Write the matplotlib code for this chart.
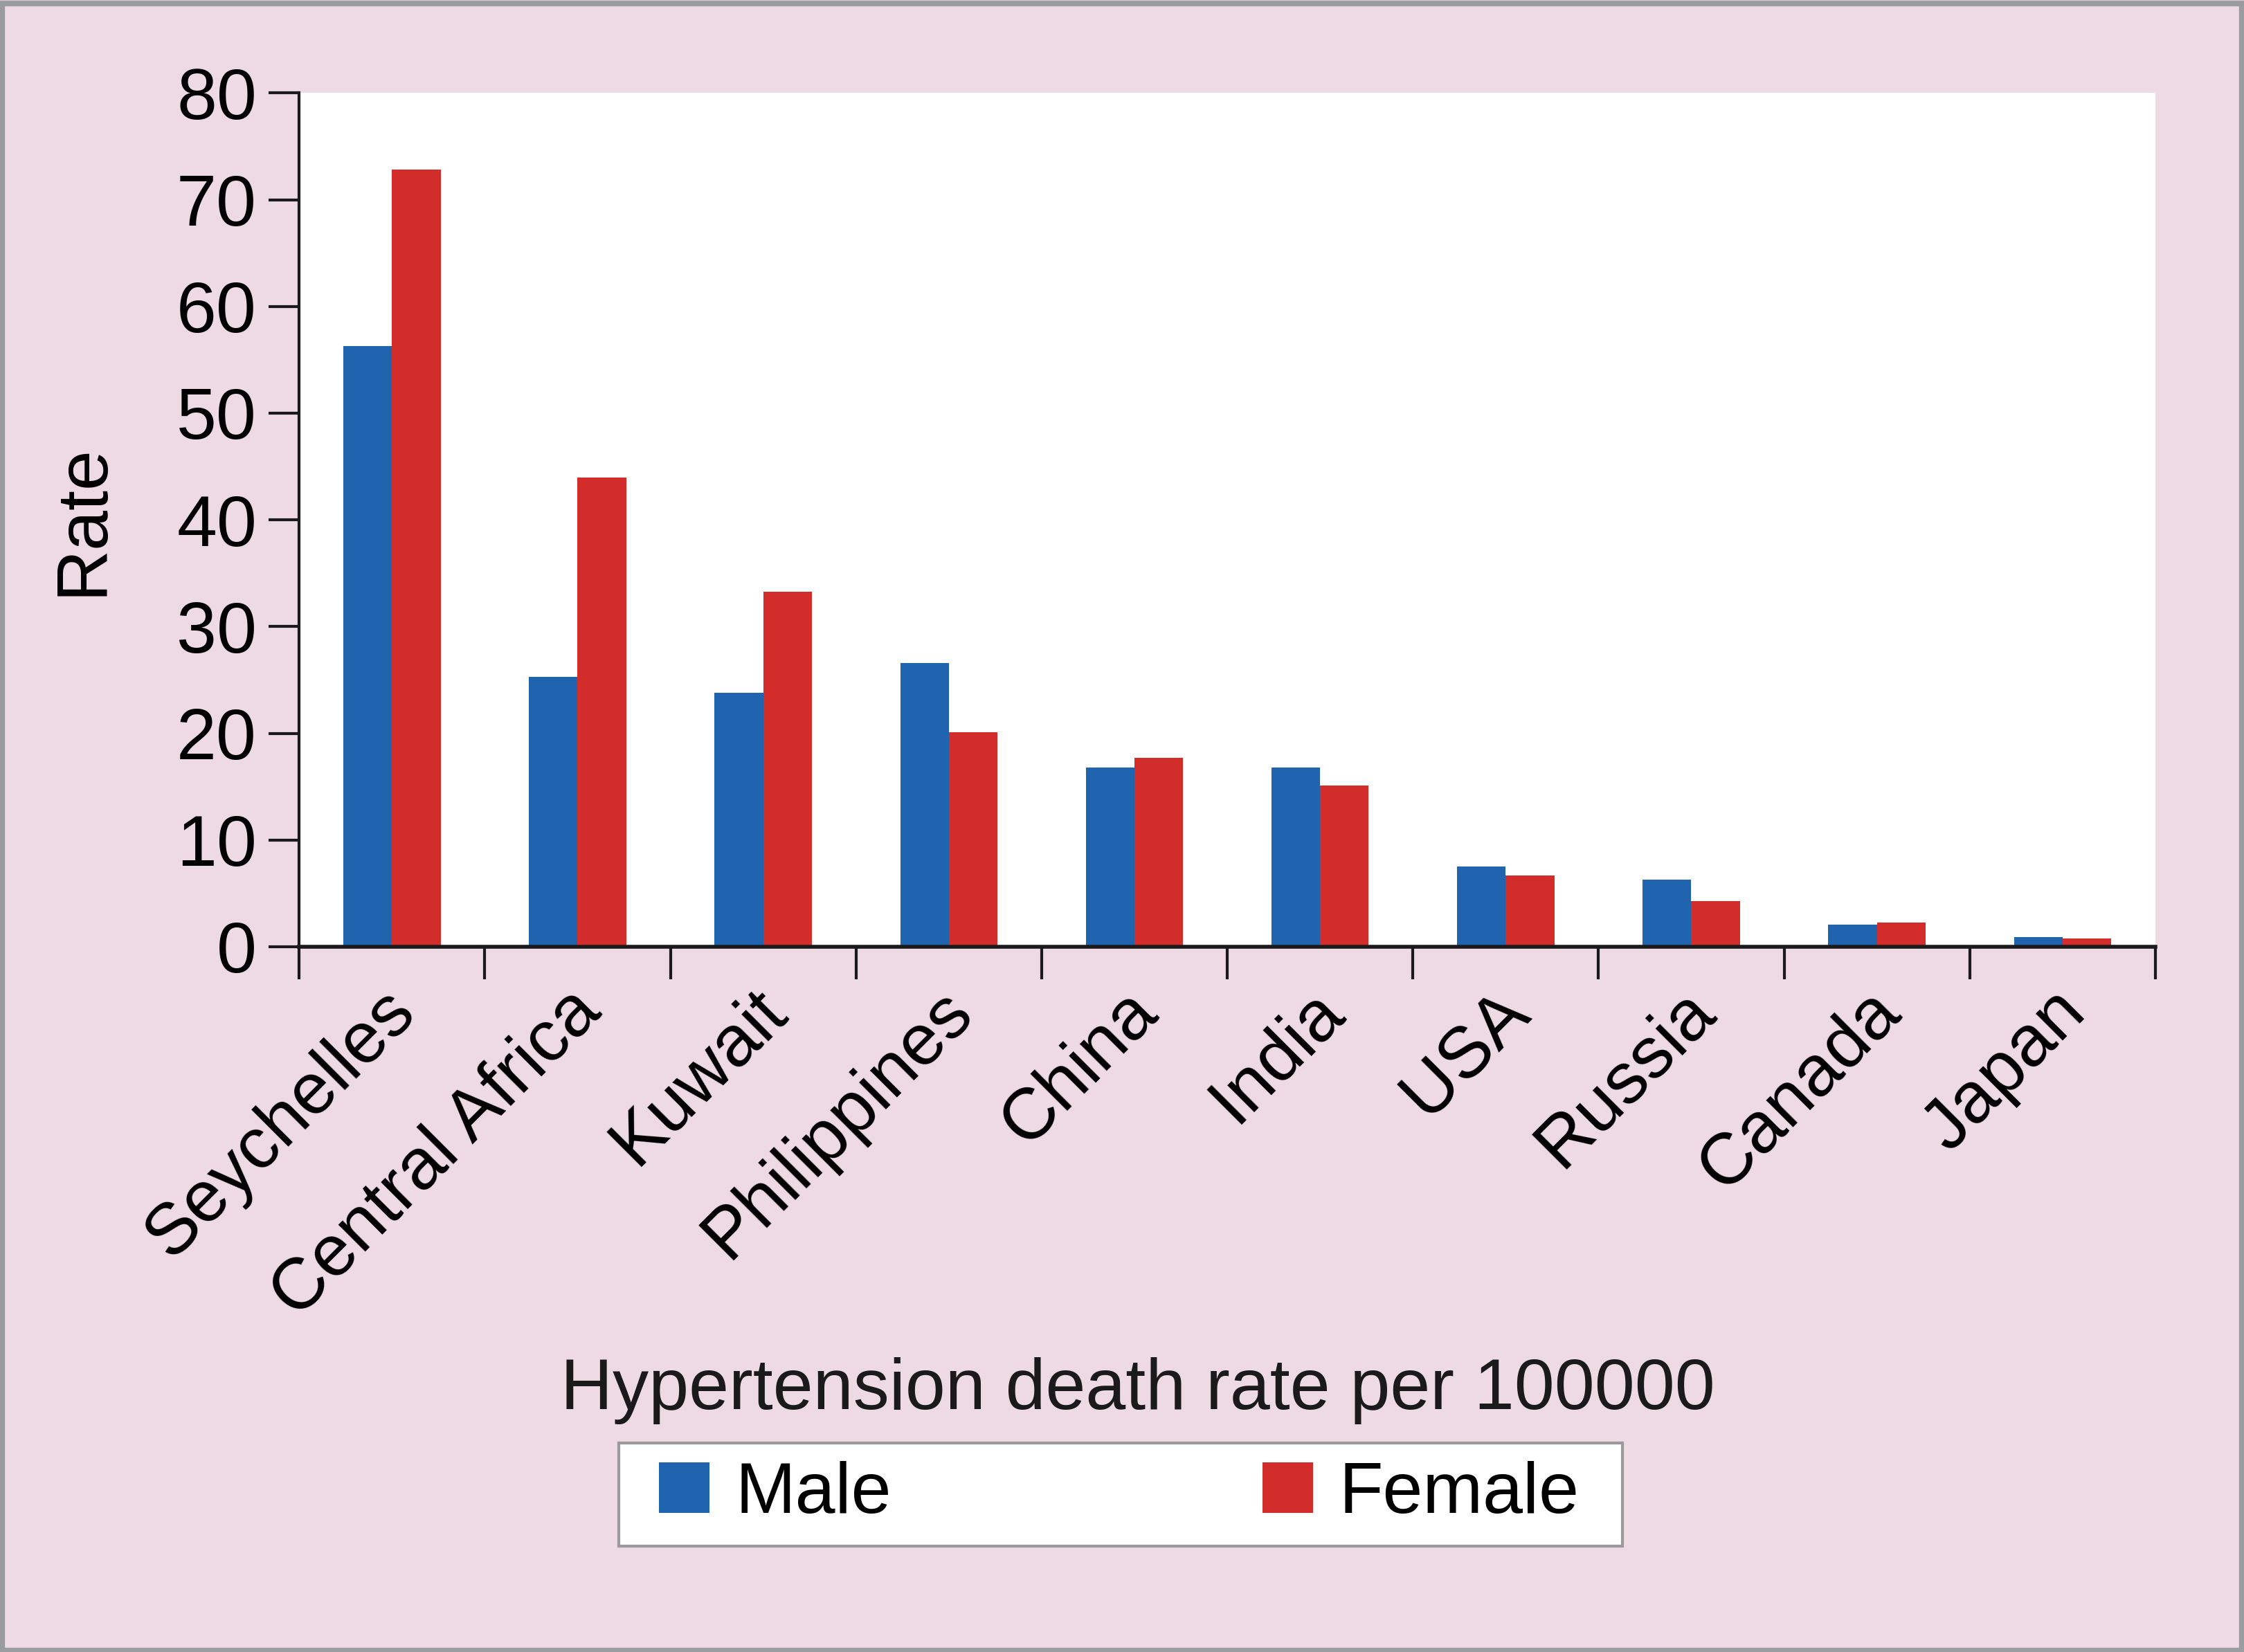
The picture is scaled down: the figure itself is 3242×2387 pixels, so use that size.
import numpy as np
import matplotlib
matplotlib.use("Agg")
import matplotlib.pyplot as plt
from matplotlib.patches import Rectangle

countries = ["Seychelles", "Central Africa", "Kuwait", "Philippines", "China",
             "India", "USA", "Russia", "Canada", "Japan"]
male = [56.3, 25.3, 23.8, 26.6, 16.8, 16.8, 7.5, 6.3, 2.1, 0.9]
female = [72.8, 44.0, 33.3, 20.1, 17.7, 15.1, 6.7, 4.3, 2.3, 0.8]
yticks = [0, 10, 20, 30, 40, 50, 60, 70, 80]

plt.rcParams["font.family"] = ["Liberation Sans", "DejaVu Sans"]
fs = 75
blue = "#2064B0"
red = "#D32D2B"
pink = "#EDDAE2"

fig = plt.figure(figsize=(32.42, 23.87), dpi=100, facecolor=pink)
ax = fig.add_axes([0.1333, 0.4269, 0.8272, 0.5168])
ax.set_facecolor("white")

x = np.arange(len(countries))
w = 0.262
ax.bar(x - w / 2, male, w, color=blue, label="Male", zorder=2)
ax.bar(x + w / 2, female, w, color=red, label="Female", zorder=2)

ax.set_xlim(-0.5, len(countries) - 0.5)
ax.set_ylim(0, 80)
ax.set_yticks(yticks)

# category labels near centers (slightly left), tick marks at group boundaries
ax.set_xticks(x - 0.06)
ax.set_xticklabels(countries, rotation=45, ha="right", va="top",
                   rotation_mode="anchor", fontsize=fs)
ax.set_xticks(np.arange(len(countries) + 1) - 0.5, minor=True)
ax.tick_params(axis="x", which="major", length=0, pad=32)
ax.tick_params(axis="x", which="minor", length=34, width=3, color="#1a1a1a")
ax.tick_params(axis="y", length=32, width=3, pad=12, labelsize=fs,
               color="#1a1a1a")

for s in ["top", "right"]:
    ax.spines[s].set_visible(False)
ax.spines["left"].set_linewidth(3)
ax.spines["bottom"].set_linewidth(4)
ax.spines["left"].set_color("#1a1a1a")
ax.spines["bottom"].set_color("#1a1a1a")

ax.set_ylabel("Rate", fontsize=fs)
ax.yaxis.set_label_coords(-0.098, 0.5)

fig.text(0.507, 0.158, "Hypertension death rate per 100000", fontsize=fs,
         ha="center", va="center", color="#1a1a1a")

# legend box
fig.patches.append(Rectangle((0.2757, 0.0641), 0.4473, 0.0624,
                             transform=fig.transFigure, facecolor="white",
                             edgecolor="#9a9a9a", linewidth=3, zorder=1))
leg = fig.legend(loc="center left", bbox_to_anchor=(0.2936, 0.0953), ncol=2,
                 fontsize=fs, frameon=False,
                 handlelength=0.7, handleheight=0.7, handletextpad=0.36,
                 columnspacing=5.15, borderpad=0, borderaxespad=0)
leg.set_zorder(3)

# outer border
fig.patches.append(Rectangle((0.001, 0.001), 0.998, 0.997, transform=fig.transFigure,
                             fill=False, edgecolor="#9a9c9e", linewidth=6))

fig.savefig("out.png", dpi=100, facecolor=pink)
